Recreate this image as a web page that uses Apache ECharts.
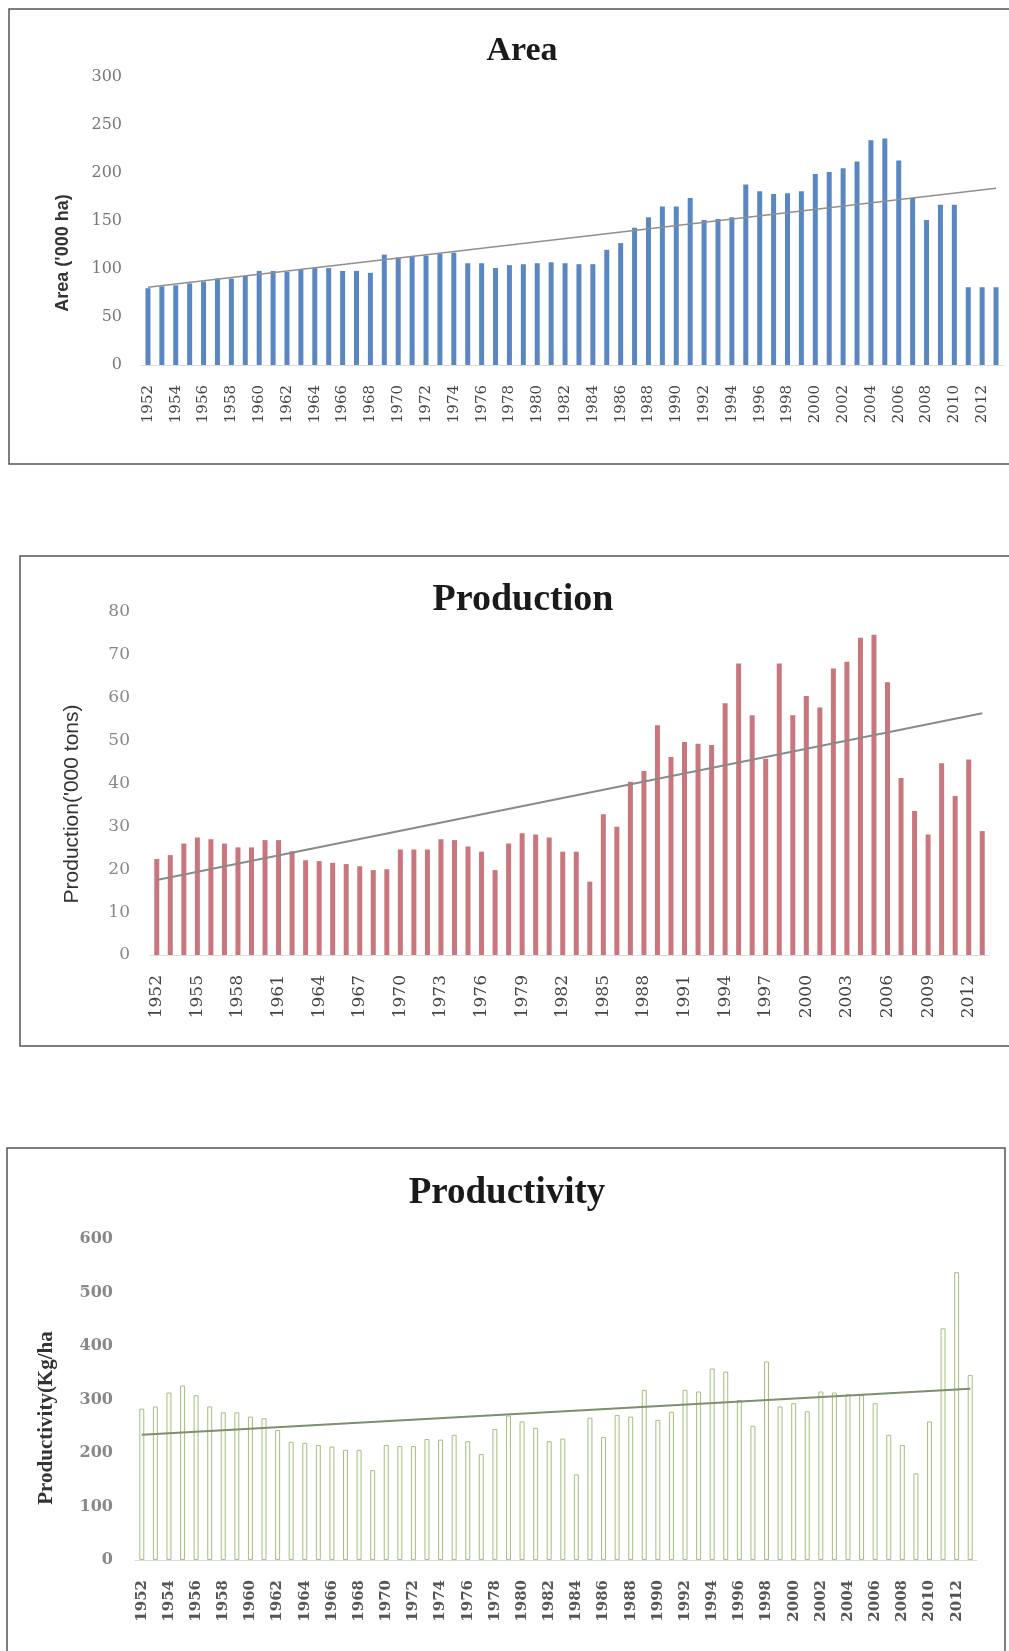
<!DOCTYPE html>
<html>
<head>
<meta charset="utf-8">
<script src="https://cdn.jsdelivr.net/npm/echarts@6/dist/echarts.min.js"></script>
<style>
  html, body { margin: 0; padding: 0; background: #fff; }
  #main { width: 1009px; height: 1651px; }
</style>
</head>
<body>
<div id="main"></div>
<script>
// years on every category axis
const years = [
  "1952", "1953", "1954", "1955", "1956", "1957", "1958", "1959", "1960", "1961",
  "1962", "1963", "1964", "1965", "1966", "1967", "1968", "1969", "1970", "1971",
  "1972", "1973", "1974", "1975", "1976", "1977", "1978", "1979", "1980", "1981",
  "1982", "1983", "1984", "1985", "1986", "1987", "1988", "1989", "1990", "1991",
  "1992", "1993", "1994", "1995", "1996", "1997", "1998", "1999", "2000", "2001",
  "2002", "2003", "2004", "2005", "2006", "2007", "2008", "2009", "2010", "2011",
  "2012", "2013"
];

// Area ('000 ha)
const areaValues = [
  80, 82, 83, 85, 87, 90, 90, 93, 98, 98,
  97, 100, 101, 101, 98, 98, 96, 115, 112, 113,
  114, 116, 117, 106, 106, 101, 104, 105, 106, 107,
  106, 105, 105, 120, 127, 143, 154, 165, 165, 174,
  151, 152, 154, 188, 181, 178, 179, 181, 199, 201,
  205, 212, 234, 236, 213, 174, 151, 167, 167, 81,
  81, 81
];

// Production ('000 tons)
const productionValues = [
  22.4, 23.3, 26, 27.4, 27, 26, 25.1, 25.1, 26.8, 26.8,
  24.2, 22.1, 21.9, 21.5, 21.2, 20.7, 19.8, 20, 24.6, 24.6,
  24.6, 27, 26.8, 25.3, 24.1, 19.8, 26, 28.4, 28.1, 27.4,
  24.1, 24.1, 17.1, 32.8, 29.9, 40.4, 42.9, 53.6, 46.2, 49.7,
  49.3, 49, 58.7, 68, 55.9, 45.8, 68, 55.9, 60.4, 57.7,
  66.8, 68.4, 74, 74.7, 63.6, 41.3, 33.6, 28.1, 44.7, 37.1,
  45.6, 28.9
];

// Productivity (Kg/ha)
const productivityValues = [
  283, 287, 313, 326, 308, 287, 276, 276, 268, 265,
  243, 221, 219, 215, 212, 206, 206, 168, 215, 213,
  213, 226, 225, 234, 222, 198, 245, 270, 259, 247,
  222, 227, 160, 266, 230, 271, 268, 318, 262, 277,
  318, 315, 358, 352, 299, 251, 371, 287, 293, 278,
  315, 313, 310, 308, 293, 234, 215, 162, 259, 433,
  538, 346
];

// linear trend lines, start and end values
const trendYears = ["1952", "2013"];
const areaTrend = [81, 184];
const productionTrend = [17.5, 56.4];
const productivityTrend = [234, 320];

// tick setups
const areaTicks = { min: 0, max: 300, interval: 50 };
const productionTicks = { min: 0, max: 80, interval: 10 };
const productivityTicks = { min: 0, max: 600, interval: 100 };

function trendData(values) {
  return trendYears.map((y, i) => [y, values[i]]);
}

function xAxisFor(gridIndex, interval, labelStyle) {
  return {
    type: "category",
    gridIndex,
    data: years,
    boundaryGap: true,
    axisLine: { lineStyle: { color: "#dcdcdc", width: 1 } },
    axisTick: { show: false },
    axisLabel: Object.assign({ rotate: 90, interval, margin: 20 }, labelStyle),
    splitLine: { show: false },
  };
}

function yAxisFor(gridIndex, ticks, labelStyle, margin) {
  return Object.assign({
    type: "value",
    gridIndex,
    axisLine: { show: false },
    axisTick: { show: false },
    splitLine: { show: false },
    axisLabel: Object.assign({ margin }, labelStyle),
  }, ticks);
}

const chart = echarts.init(document.getElementById("main"), null, { renderer: "canvas" });

const option = {
  animation: false,
  backgroundColor: "#fff",
  title: [
    { text: "Area", left: 517, top: 29, textAlign: "center",
      textStyle: { fontFamily: "Liberation Serif", fontWeight: "bold", fontSize: 34, color: "#1a1a1a" } },
    { text: "Production", left: 518, top: 576, textAlign: "center",
      textStyle: { fontFamily: "Liberation Serif", fontWeight: "bold", fontSize: 38, color: "#1a1a1a" } },
    { text: "Productivity", left: 502, top: 1170, textAlign: "center",
      textStyle: { fontFamily: "Liberation Serif", fontWeight: "bold", fontSize: 37, color: "#1a1a1a" } },
  ],
  grid: [
    { left: 141, top: 77, width: 862, height: 288 },
    { left: 150, top: 612, width: 839, height: 343 },
    { left: 135, top: 1239, width: 842, height: 321 },
  ],
  xAxis: [
    xAxisFor(0, 1, { fontFamily: "DejaVu Serif", fontSize: 15, color: "#444" }),
    xAxisFor(1, 2, { fontFamily: "DejaVu Serif", fontSize: 17, color: "#444" }),
    xAxisFor(2, 1, { fontFamily: "DejaVu Serif", fontWeight: "bold", fontSize: 15, color: "#555" }),
  ],
  yAxis: [
    yAxisFor(0, areaTicks, { fontFamily: "DejaVu Serif", fontSize: 16, color: "#777" }, 19),
    yAxisFor(1, productionTicks, { fontFamily: "DejaVu Serif", fontSize: 17, color: "#888" }, 20),
    yAxisFor(2, productivityTicks, { fontFamily: "DejaVu Serif", fontWeight: "bold", fontSize: 16, color: "#888" }, 22),
  ],
  graphic: [
    // chart frames
    { type: "rect", shape: { x: 9, y: 9, width: 1010, height: 455 },
      style: { fill: "none", stroke: "#555", lineWidth: 1.5 } },
    { type: "rect", shape: { x: 20, y: 556, width: 1000, height: 490 },
      style: { fill: "none", stroke: "#555", lineWidth: 1.5 } },
    { type: "rect", shape: { x: 7, y: 1148, width: 998, height: 520 },
      style: { fill: "none", stroke: "#555", lineWidth: 1.5 } },
    // y axis names
    { type: "text", x: 63, y: 253, rotation: Math.PI / 2,
      style: { text: "Area ('000 ha)", fontFamily: "Liberation Sans", fontWeight: "bold", fontSize: 18,
        fill: "#333", textAlign: "center", textVerticalAlign: "middle" } },
    { type: "text", x: 72, y: 804, rotation: Math.PI / 2,
      style: { text: "Production('000 tons)", fontFamily: "Liberation Sans", fontSize: 21,
        fill: "#333", textAlign: "center", textVerticalAlign: "middle" } },
    { type: "text", x: 47, y: 1418, rotation: Math.PI / 2,
      style: { text: "Productivity(Kg/ha", fontFamily: "Liberation Serif", fontWeight: "bold", fontSize: 21,
        fill: "#333", textAlign: "center", textVerticalAlign: "middle" } },
  ],
  series: [
    {
      name: "Area", type: "bar", xAxisIndex: 0, yAxisIndex: 0,
      data: areaValues, barWidth: 5,
      itemStyle: { color: "#5a87c2" },
    },
    {
      name: "Area trend", type: "line", xAxisIndex: 0, yAxisIndex: 0,
      data: trendData(areaTrend), symbol: "none",
      lineStyle: { color: "#8f8f8f", width: 1.5 },
    },
    {
      name: "Production", type: "bar", xAxisIndex: 1, yAxisIndex: 1,
      data: productionValues, barWidth: 5,
      itemStyle: { color: "#c9767e" },
    },
    {
      name: "Production trend", type: "line", xAxisIndex: 1, yAxisIndex: 1,
      data: trendData(productionTrend), symbol: "none",
      lineStyle: { color: "#8a8a8a", width: 2 },
    },
    {
      name: "Productivity", type: "bar", xAxisIndex: 2, yAxisIndex: 2,
      data: productivityValues, barWidth: 5,
      itemStyle: { color: "#fbfcf8", borderColor: "#a7be87", borderWidth: 1 },
    },
    {
      name: "Productivity trend", type: "line", xAxisIndex: 2, yAxisIndex: 2,
      data: trendData(productivityTrend), symbol: "none",
      lineStyle: { color: "#7d8f6e", width: 2 },
    },
  ],
};

chart.setOption(option);
</script>
</body>
</html>
